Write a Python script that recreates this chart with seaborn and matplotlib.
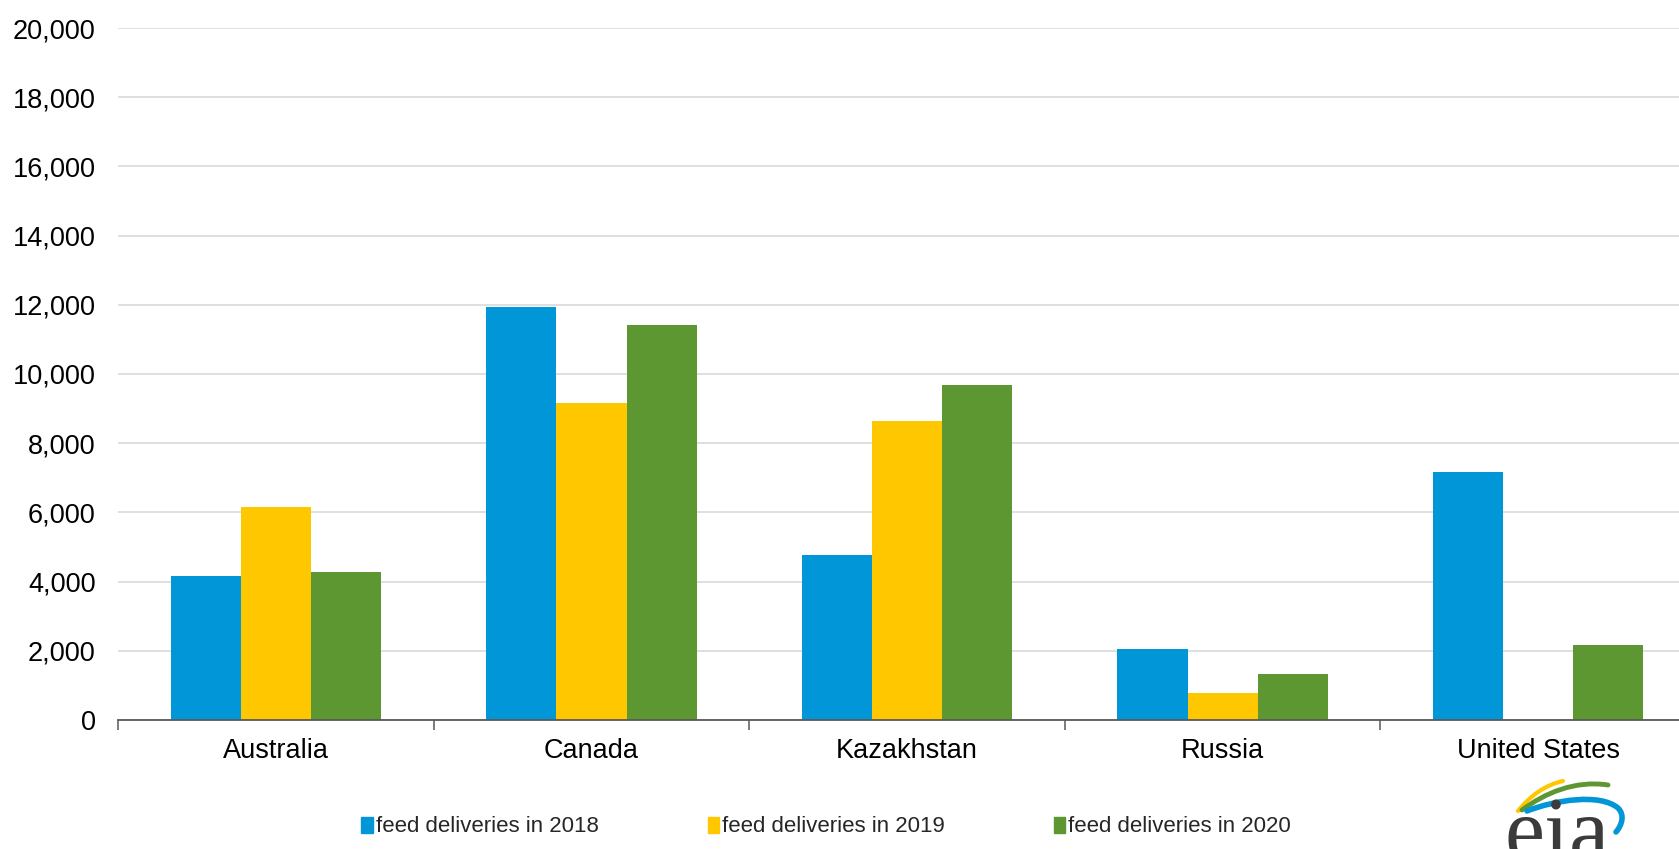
import matplotlib
matplotlib.use("Agg")
import matplotlib.pyplot as plt
import matplotlib.patches as mpatches
from matplotlib.path import Path
from matplotlib.ticker import FuncFormatter, FixedLocator
import seaborn as sns
import pandas as pd

# values
countries = ["Australia", "Canada", "Kazakhstan", "Russia", "United States"]
series = ["feed deliveries in 2018", "feed deliveries in 2019", "feed deliveries in 2020"]
vals_2018 = [4160, 11940, 4760, 2050, 7160]
vals_2019 = [6150, 9160, 8650, 780, 0]
vals_2020 = [4270, 11430, 9690, 1320, 2170]
colors = ["#0096D7", "#FFC700", "#5D9732"]

rows = []
for name, vals in zip(series, [vals_2018, vals_2019, vals_2020]):
    for c, v in zip(countries, vals):
        rows.append({"country": c, "series": name, "value": v})
df = pd.DataFrame(rows)

sns.set_style("white")
plt.rcParams["font.family"] = ["Liberation Sans", "DejaVu Sans"]

fig = plt.figure(figsize=(16.79, 8.49), dpi=100)
ax = fig.add_axes([0.0703, 0.152, 0.9297, 0.815])

sns.barplot(data=df, x="country", y="value", hue="series", order=countries,
            hue_order=series, palette=colors, width=0.667, gap=0,
            saturation=1, edgecolor="none", linewidth=0, errorbar=None, ax=ax)

ax.set_ylim(0, 20000)
ax.set_xlim(-0.5, 4.446)
ax.set_yticks(range(0, 20001, 2000))
ax.yaxis.set_major_formatter(FuncFormatter(lambda v, p: f"{int(v):,}"))
ax.grid(axis="y", color="#d9d9d9", linewidth=1.2)
ax.set_axisbelow(True)
ax.set_xlabel("")
ax.set_ylabel("")

for s in ["top", "right", "left"]:
    ax.spines[s].set_visible(False)
ax.spines["bottom"].set_color("#595959")
ax.spines["bottom"].set_linewidth(1.3)

ax.tick_params(axis="y", length=0, pad=16, labelsize=19.5, labelcolor="black")
ax.tick_params(axis="x", which="major", length=0, pad=13, labelsize=19.5, labelcolor="black")
ax.xaxis.set_minor_locator(FixedLocator([-0.5, 0.5, 1.5, 2.5, 3.5]))
ax.tick_params(axis="x", which="minor", bottom=True, length=7, width=1.1,
               color="#595959", direction="out")

ax.get_legend().remove()
handles = [mpatches.Patch(color=c, label=s) for c, s in zip(colors, series)]
fig.legend(handles=handles, loc="center left", bbox_to_anchor=(0.21, 0.026), ncol=3,
           frameon=False, fontsize=16, handlelength=0.5, handleheight=0.75,
           handletextpad=0.15, columnspacing=4.9, borderaxespad=0)

# eia logo, rough sketch in figure pixel coordinates
lax = fig.add_axes([1480 / 1679, 0, 199 / 1679, 89 / 849])
lax.set_xlim(1480, 1679)
lax.set_ylim(849, 760)
lax.axis("off")
lax.text(1505, 860, "eia", fontsize=65, family="Liberation Serif", color="#3b3b3b",
         ha="left", va="baseline", clip_on=False)
M, C = Path.MOVETO, Path.CURVE4
arcs = [
    ([(1518, 811), (1530, 796), (1545, 785), (1563, 781)], [M, C, C, C], "#FFC700", 3),
    ([(1522, 810), (1545, 793), (1575, 780), (1608, 785)], [M, C, C, C], "#5D9732", 3.5),
    ([(1527, 811), (1555, 800), (1600, 793), (1618, 808),
      (1625, 815), (1622, 825), (1616, 832)], [M, C, C, C, C, C, C], "#0096D7", 4),
]
for pts, codes, col, lw in arcs:
    lax.add_patch(mpatches.PathPatch(Path(pts, codes), facecolor="none", edgecolor=col,
                                     linewidth=lw, capstyle="round"))

fig.savefig("out.png", dpi=100)
